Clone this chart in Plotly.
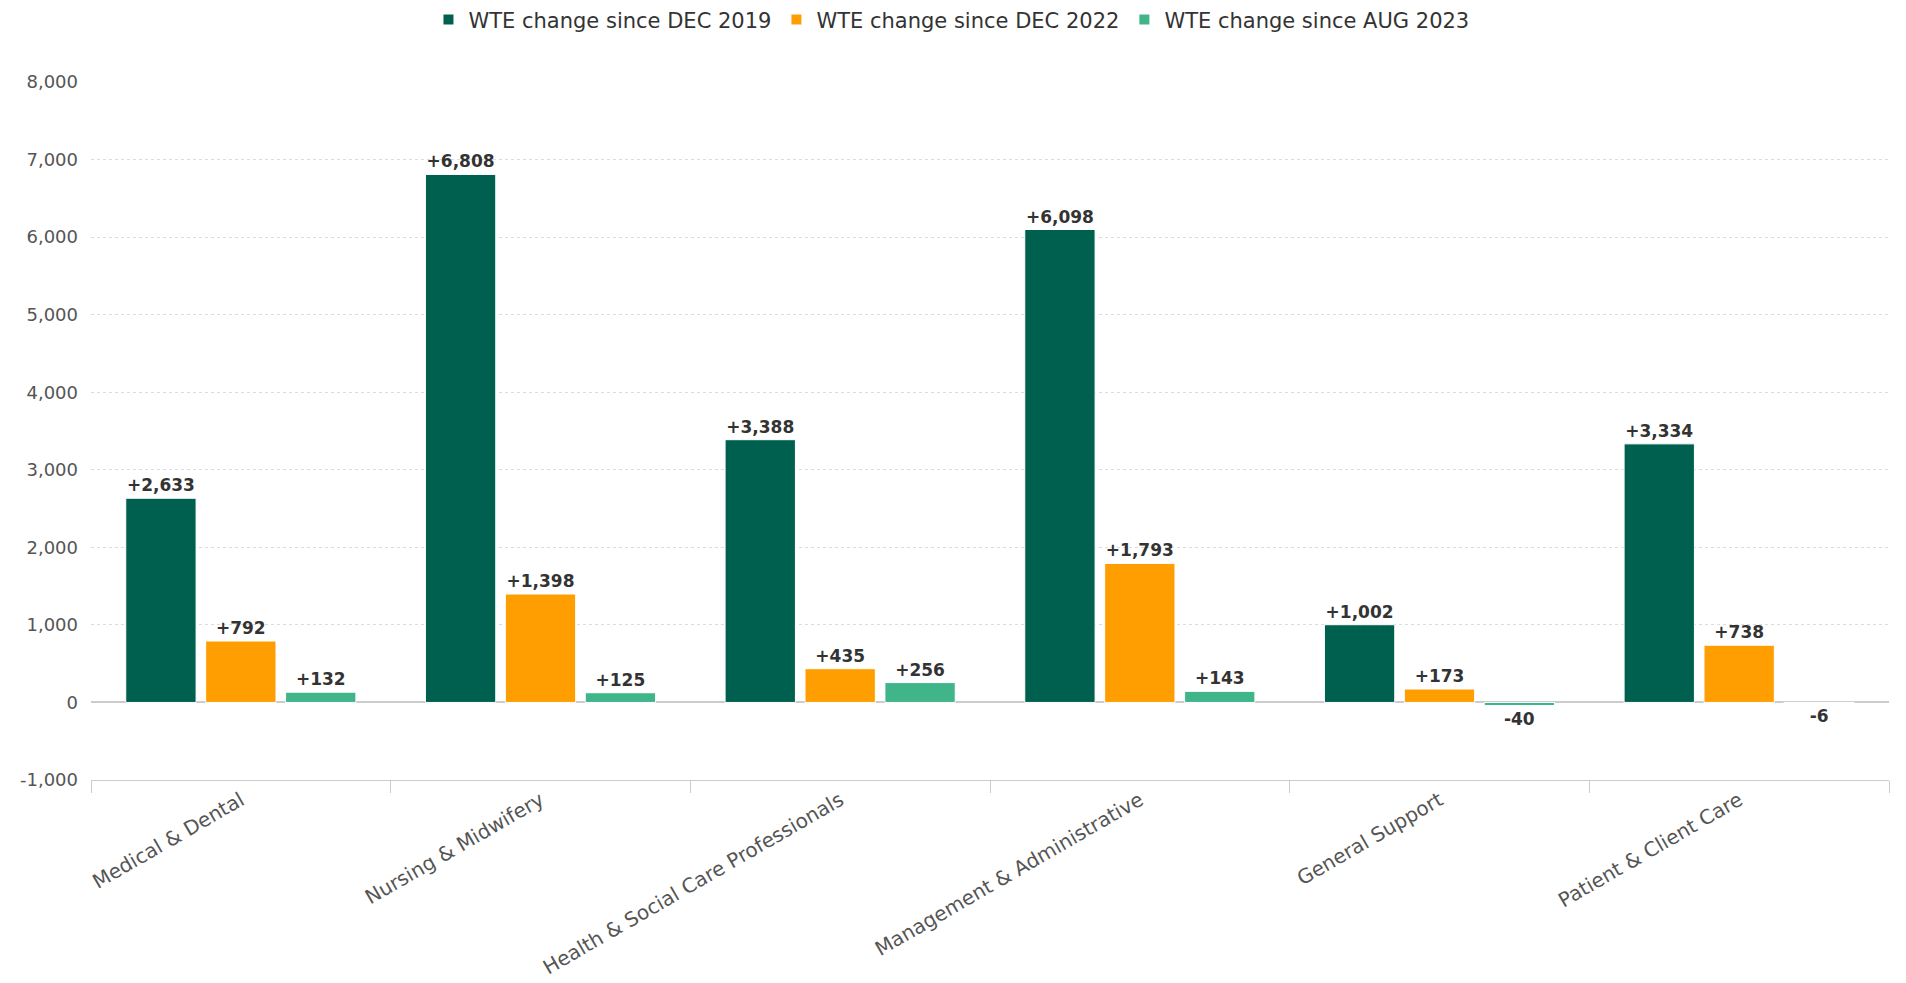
import plotly.graph_objects as go

categories = ["Medical & Dental", "Nursing & Midwifery", "Health & Social Care Professionals",
              "Management & Administrative", "General Support", "Patient & Client Care"]
series_names = ["WTE change since DEC 2019", "WTE change since DEC 2022", "WTE change since AUG 2023"]
since_dec_2019 = [2633, 6808, 3388, 6098, 1002, 3334]
since_dec_2022 = [792, 1398, 435, 1793, 173, 738]
since_aug_2023 = [132, 125, 256, 143, -40, -6]
colors = ["#00604F", "#FF9E00", "#40B58A"]
y_ticks = [-1000, 0, 1000, 2000, 3000, 4000, 5000, 6000, 7000, 8000]
y_tick_text = ["-1,000", "0", "1,000", "2,000", "3,000", "4,000", "5,000", "6,000", "7,000", "8,000"]

FONT = "DejaVu Sans"

def fmt(v):
    return ("+" if v > 0 else "") + f"{v:,}"

fig = go.Figure()
for name, vals, col in zip(series_names, [since_dec_2019, since_dec_2022, since_aug_2023], colors):
    fig.add_trace(go.Bar(
        x=categories, y=vals, name=name,
        marker=dict(color=col, line=dict(color="white", width=1)),
        text=[fmt(v) for v in vals], textposition="outside",
        textfont=dict(family=FONT, size=17, color="#333333", weight="bold"),
        cliponaxis=False,
    ))

fig.update_layout(
    width=1906, height=983,
    paper_bgcolor="white", plot_bgcolor="white",
    margin=dict(l=82, r=25, t=74, b=209),
    barmode="group", bargap=0.2, bargroupgap=0.12,
    font=dict(family=FONT, size=18, color="#555555"),
    legend=dict(orientation="h", x=0.495, xanchor="center", xref="container",
                y=0.988, yanchor="middle", yref="container",
                font=dict(family=FONT, size=21, color="#333333"),
                itemsizing="constant", traceorder="normal", itemwidth=30),
    showlegend=True,
)
fig.update_xaxes(
    tickangle=-30, tickson="boundaries", ticks="outside", ticklen=12, tickcolor="#cccccc",
    showline=True, linecolor="#cccccc", linewidth=1,
    tickfont=dict(family=FONT, size=20, color="#555555"),
)
fig.update_yaxes(
    range=[-1000, 8000], tickvals=y_ticks, ticktext=y_tick_text,
    showgrid=True, gridcolor="#dddddd", griddash="dot", gridwidth=1,
    zeroline=True, zerolinecolor="#cccccc", zerolinewidth=2,
    tickfont=dict(family=FONT, size=18, color="#555555"), ticks="", showline=False,
    ticklabelstandoff=12,
)
fig.write_html("out.html")
